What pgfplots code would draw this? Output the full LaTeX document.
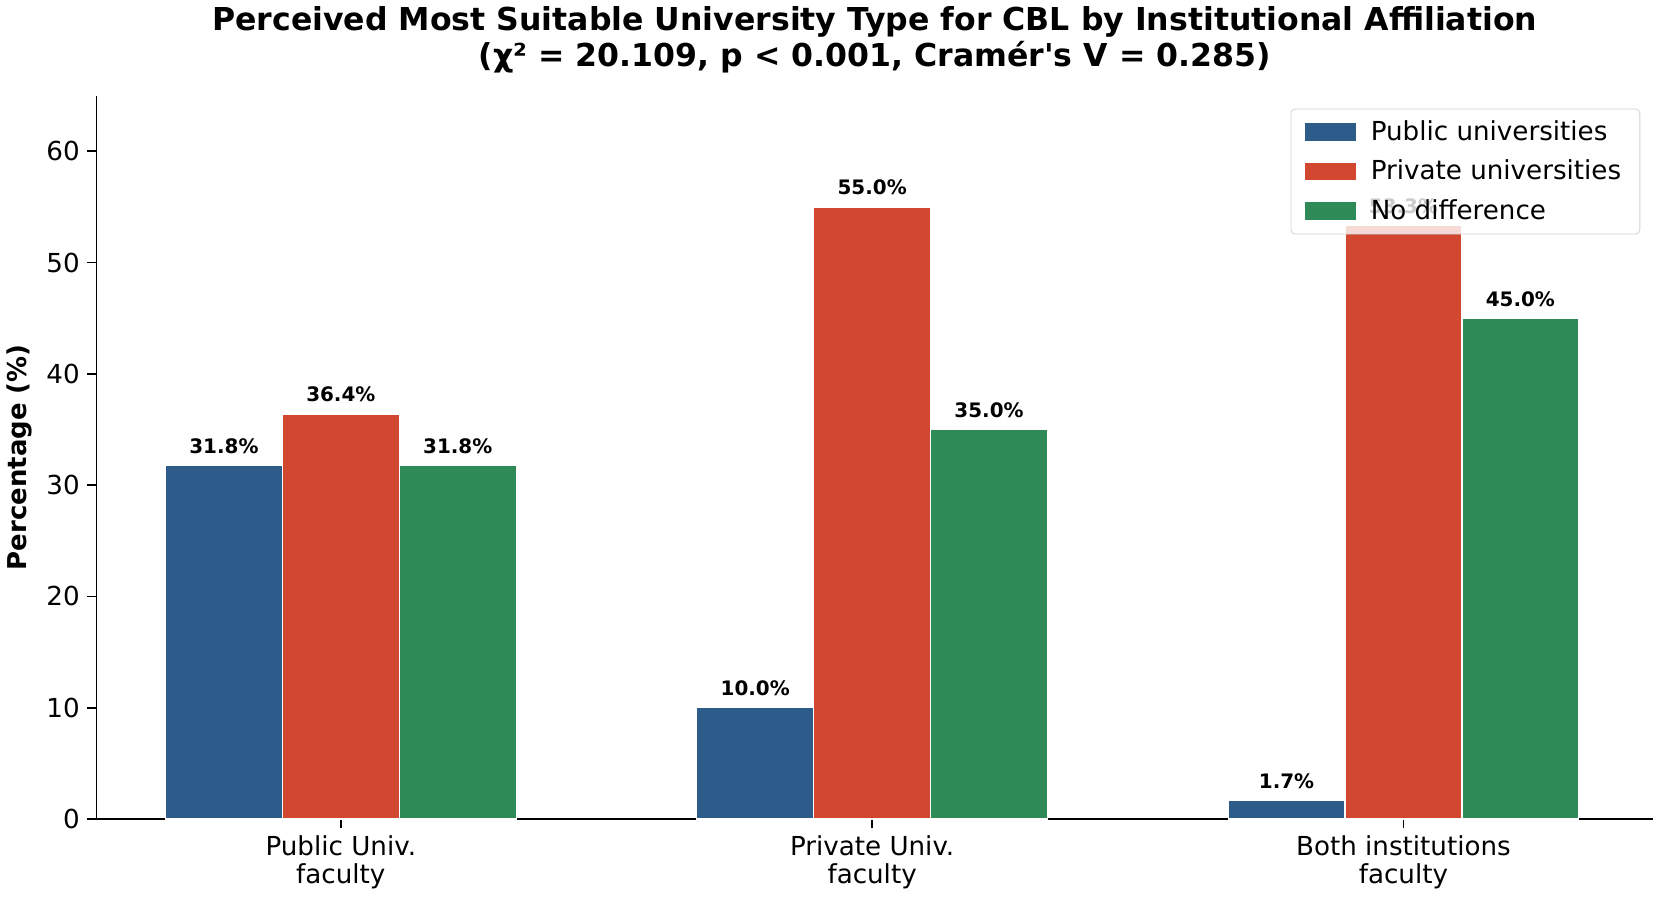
\documentclass[border=0pt]{standalone}
\usepackage{fontspec}
\setmainfont{DejaVu Sans}[Ligatures=TeXOff]
\usepackage{pgfplots}
\pgfplotsset{compat=1.18}
\definecolor{cblue}{HTML}{2E5C8A}
\definecolor{cred}{HTML}{D1472F}
\definecolor{cgreen}{HTML}{2E8B57}
\begin{document}
\begin{tikzpicture}
\begin{axis}[
  scale only axis,
  width=750pt, height=348.5pt,
  xmin=-0.46, xmax=2.47,
  ymin=0, ymax=65,
  axis x line*=bottom, axis y line*=left,
  axis line style={black, line width=0.8pt},
  xtick={0,1,2},
  xticklabels={{Public Univ.\\faculty},{Private Univ.\\faculty},{Both institutions\\faculty}},
  xticklabel style={align=center, font=\fontsize{12.6}{13.6}\selectfont},
  ytick={0,10,20,30,40,50,60},
  yticklabel style={font=\fontsize{12.6}{14}\selectfont},
  /pgf/number format/assume math mode=true,
  tick align=outside,
  major tick length=4.5pt,
  tick style={black, line width=0.8pt},
  ylabel={Percentage (\%)},
  ylabel style={font=\bfseries\fontsize{12.5}{14}\selectfont},
  title={Perceived Most Suitable University Type for CBL by Institutional Affiliation\\(χ² = 20.109, p < 0.001, Cramér's V = 0.285)},
  title style={align=center, font=\bfseries\fontsize{15.2}{17}\selectfont, yshift=1.5pt},
  ybar, bar width=0.22,
  nodes near coords={\pgfmathprintnumber[fixed,precision=1,fixed zerofill]{\pgfplotspointmeta}\%},
  every node near coord/.append style={font=\bfseries\fontsize{9.6}{12}\selectfont, black, yshift=2pt},
  legend style={at={(0.9917,0.982)}, anchor=north east, draw=gray!35, rounded corners=2pt,
    fill=white, fill opacity=0.8, text opacity=1, draw opacity=1,
    font=\fontsize{12.6}{14}\selectfont, row sep=4pt, inner xsep=7pt, inner ysep=3.5pt},
  legend cell align=left,
  legend image code/.code={\draw[#1, draw=none, fill opacity=1, sharp corners] (0cm,-0.15cm) rectangle (0.85cm,0.15cm); \path (0.85cm+5pt,0cm);},
]
\addplot[fill=cblue, draw=white, line width=0.6pt, bar shift=-0.22] coordinates {(0,31.8) (1,10.0) (2,1.7)};
\addplot[fill=cred, draw=white, line width=0.6pt, bar shift=0] coordinates {(0,36.4) (1,55.0) (2,53.3)};
\addplot[fill=cgreen, draw=white, line width=0.6pt, bar shift=0.22] coordinates {(0,31.8) (1,35.0) (2,45.0)};
\legend{Public universities, Private universities, No difference}
\end{axis}
\end{tikzpicture}
\end{document}
